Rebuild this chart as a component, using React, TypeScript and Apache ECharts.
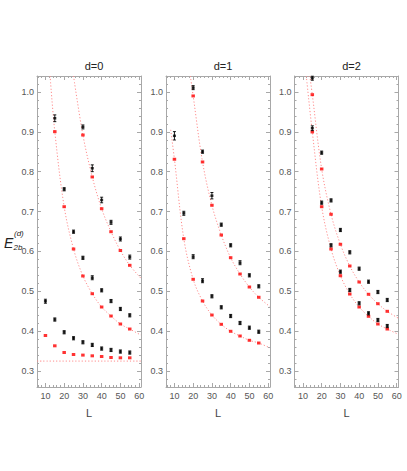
import React, { useEffect, useRef } from "react";
import * as echarts from "echarts";

// ---- axis ticks ----
const xTicks = [10, 20, 30, 40, 50, 60];
const yTicks = [0.3, 0.4, 0.5, 0.6, 0.7, 0.8, 0.9, 1.0];
const panelTitles = ["d=0", "d=1", "d=2"];

// ---- d=0 ----
const d0A_L = [15, 20, 25, 30, 35, 40, 45, 50, 55];
const d0A_black = [0.934, 0.756, 0.6495, 0.584, 0.534, 0.5025, 0.4755, 0.4557, 0.4398];
const d0A_err = [0.0085, 0.004, 0.004, 0.004, 0.005, 0.004, 0.004, 0.004, 0.004];
const d0A_red = [0.9004, 0.7122, 0.6061, 0.5384, 0.494, 0.4606, 0.438, 0.418, 0.4054];
const d0A_fit = [[12.5, 1.04], [15, 0.9004], [20, 0.7122], [25, 0.6061], [30, 0.5384], [35, 0.494], [40, 0.4606], [45, 0.438], [50, 0.418], [55, 0.4054], [61, 0.39]];

const d0B_L = [30, 35, 40, 45, 50, 55];
const d0B_black = [0.9122, 0.8086, 0.729, 0.673, 0.6312, 0.5858];
const d0B_err = [0.005, 0.0085, 0.007, 0.005, 0.005, 0.005];
const d0B_red = [0.892, 0.7868, 0.7072, 0.6495, 0.6023, 0.5652];
const d0B_fit = [[25, 1.04], [30, 0.892], [35, 0.7868], [40, 0.7072], [45, 0.6495], [50, 0.6023], [55, 0.5652], [61, 0.5326]];

const d0C_L = [10, 15, 20, 25, 30, 35, 40, 45, 50, 55];
const d0C_black = [0.4751, 0.4292, 0.3973, 0.3823, 0.3722, 0.3655, 0.3564, 0.3529, 0.3489, 0.3464];
const d0C_err = [0.005, 0.004, 0.004, 0.004, 0.004, 0.004, 0.004, 0.004, 0.004, 0.004];
const d0C_red = [0.3891, 0.3633, 0.3465, 0.3415, 0.34, 0.3382, 0.3365, 0.334, 0.3332, 0.3332];
const d0C_fit = [[5.5, 0.325], [61, 0.325]];

// ---- d=1 ----
const d1A_L = [10, 15, 20, 25, 30, 35, 40, 45, 50, 55];
const d1A_black = [0.89, 0.6957, 0.5868, 0.5266, 0.4875, 0.4599, 0.438, 0.4205, 0.4087, 0.3986];
const d1A_err = [0.0105, 0.005, 0.005, 0.005, 0.004, 0.004, 0.004, 0.004, 0.004, 0.004];
const d1A_red = [0.8312, 0.632, 0.5301, 0.4757, 0.4405, 0.4172, 0.3997, 0.3879, 0.3771, 0.3703];
const d1A_fit = [[8, 0.905], [10, 0.8312], [15, 0.632], [20, 0.5301], [25, 0.4757], [30, 0.4405], [35, 0.4172], [40, 0.3997], [45, 0.3879], [50, 0.3771], [55, 0.3703], [61, 0.358]];

const d1B_L = [20, 25, 30, 35, 40, 45, 50, 55];
const d1B_black = [1.0108, 0.8502, 0.7398, 0.6671, 0.6154, 0.5717, 0.5401, 0.5125];
const d1B_err = [0.005, 0.004, 0.008, 0.004, 0.004, 0.005, 0.004, 0.004];
const d1B_red = [0.99, 0.8244, 0.7158, 0.6412, 0.5843, 0.5434, 0.5108, 0.485];
const d1B_fit = [[18.5, 1.04], [20, 0.99], [25, 0.8244], [30, 0.7158], [35, 0.6412], [40, 0.5843], [45, 0.5434], [50, 0.5108], [55, 0.485], [61, 0.4614]];

// ---- d=2 ----
const d2A_L = [15, 20, 25, 30, 35, 40, 45, 50, 55];
const d2A_black = [0.909, 0.7223, 0.6154, 0.5492, 0.5033, 0.4699, 0.4448, 0.428, 0.4129];
const d2A_err = [0.006, 0.004, 0.004, 0.004, 0.004, 0.004, 0.004, 0.004, 0.004];
const d2A_red = [0.8997, 0.7122, 0.6061, 0.5391, 0.4932, 0.4606, 0.4373, 0.418, 0.4054];
const d2A_fit = [[11.8, 1.04], [15, 0.8997], [20, 0.7122], [25, 0.6061], [30, 0.5391], [35, 0.4932], [40, 0.4606], [45, 0.4373], [50, 0.418], [55, 0.4054], [61, 0.392]];

const d2B_L = [15, 20, 25, 30, 35, 40, 45, 50, 55];
const d2B_black = [1.0344, 0.8477, 0.728, 0.6538, 0.5978, 0.5567, 0.5241, 0.4982, 0.4782];
const d2B_err = [0.005, 0.004, 0.004, 0.004, 0.004, 0.004, 0.004, 0.004, 0.004];
const d2B_red = [0.9932, 0.8068, 0.6932, 0.6179, 0.5635, 0.5233, 0.4925, 0.4689, 0.4498];
const d2B_fit = [[13.7, 1.04], [15, 0.9932], [20, 0.8068], [25, 0.6932], [30, 0.6179], [35, 0.5635], [40, 0.5233], [45, 0.4925], [50, 0.4689], [55, 0.4498], [61, 0.4323]];

type Grp = { L: number[]; black: number[]; err: number[]; red: number[]; fit: number[][] };
const panels: Grp[][] = [
  [
    { L: d0A_L, black: d0A_black, err: d0A_err, red: d0A_red, fit: d0A_fit },
    { L: d0B_L, black: d0B_black, err: d0B_err, red: d0B_red, fit: d0B_fit },
    { L: d0C_L, black: d0C_black, err: d0C_err, red: d0C_red, fit: d0C_fit },
  ],
  [
    { L: d1A_L, black: d1A_black, err: d1A_err, red: d1A_red, fit: d1A_fit },
    { L: d1B_L, black: d1B_black, err: d1B_err, red: d1B_red, fit: d1B_fit },
  ],
  [
    { L: d2A_L, black: d2A_black, err: d2A_err, red: d2A_red, fit: d2A_fit },
    { L: d2B_L, black: d2B_black, err: d2B_err, red: d2B_red, fit: d2B_fit },
  ],
];

const X_MIN = 5.5, X_MAX = 61, Y_MIN = 0.26, Y_MAX = 1.04;
const xMinor: number[] = [];
for (let v = 6; v <= 60; v += 2) xMinor.push(v);
const yMinor: number[] = [];
for (let i = 13; i <= 52; i++) yMinor.push(Math.round(i * 2) / 100);

const AXIS = "#a8a8a8";
const LBL = "#555";
const FONT = "Liberation Sans, Arial, sans-serif";
const gridLefts = [37, 166, 294.5];
const GRID_TOP = 76, GRID_W = 104, GRID_H = 311;

export default function App() {
  const ref = useRef<HTMLDivElement>(null);
  useEffect(() => {
    if (!ref.current) return;
    const chart = echarts.init(ref.current, undefined, { renderer: "svg" });
    const grid: any[] = [];
    const xAxis: any[] = [];
    const yAxis: any[] = [];
    const series: any[] = [];
    const title: any[] = [];

    panels.forEach((groups, g) => {
      grid.push({ left: gridLefts[g], top: GRID_TOP, width: GRID_W, height: GRID_H });
      title.push({
        text: panelTitles[g], left: gridLefts[g] + GRID_W / 2, top: 55, textAlign: "center",
        textStyle: { fontSize: 11, fontWeight: "normal", color: "#222", fontFamily: FONT },
      });
      const xBase = { gridIndex: g, type: "value", min: X_MIN, max: X_MAX, splitLine: { show: false } };
      const yBase = { gridIndex: g, type: "value", min: Y_MIN, max: Y_MAX, splitLine: { show: false } };
      ["bottom", "top"].forEach((pos, pi) => {
        xAxis.push({
          ...xBase, position: pos,
          axisLine: { show: true, onZero: false, lineStyle: { color: AXIS, width: 1 } },
          axisTick: { show: true, inside: true, length: 4, customValues: xTicks, lineStyle: { color: AXIS } },
          axisLabel: pi === 0
            ? { show: true, customValues: xTicks, margin: 4, fontSize: 9, color: LBL, fontFamily: FONT }
            : { show: false },
          name: pi === 0 ? "L" : "", nameLocation: "middle", nameGap: 20,
          nameTextStyle: { fontSize: 11, color: "#444", fontFamily: FONT },
        });
        xAxis.push({
          ...xBase, position: pos,
          axisLine: { show: false, onZero: false },
          axisTick: { show: true, inside: true, length: 2, customValues: xMinor, lineStyle: { color: AXIS } },
          axisLabel: { show: false },
        });
      });
      ["left", "right"].forEach((pos, pi) => {
        yAxis.push({
          ...yBase, position: pos,
          axisLine: { show: true, onZero: false, lineStyle: { color: AXIS, width: 1 } },
          axisTick: { show: true, inside: true, length: 4, customValues: yTicks, lineStyle: { color: AXIS } },
          axisLabel: pi === 0
            ? { show: true, customValues: yTicks, margin: 3, fontSize: 9, color: LBL, fontFamily: FONT, formatter: (v: number) => v.toFixed(1) }
            : { show: false },
        });
        yAxis.push({
          ...yBase, position: pos,
          axisLine: { show: false, onZero: false },
          axisTick: { show: true, inside: true, length: 2, customValues: yMinor, lineStyle: { color: AXIS } },
          axisLabel: { show: false },
        });
      });
      const xi = g * 4, yi = g * 4;
      groups.forEach((grp) => {
        series.push({
          type: "line", xAxisIndex: xi, yAxisIndex: yi, data: grp.fit, smooth: 0.35,
          showSymbol: false, symbol: "none", clip: true,
          lineStyle: { color: "#ff8c8c", width: 1, type: [1.2, 2] }, z: 1,
        });
        series.push({
          type: "scatter", xAxisIndex: xi, yAxisIndex: yi, symbol: "rect", symbolSize: [3.5, 3],
          itemStyle: { color: "#ff0000" }, data: grp.L.map((l, i) => [l, grp.red[i]]), z: 3,
        });
        series.push({
          type: "custom", xAxisIndex: xi, yAxisIndex: yi, encode: { x: 0, y: 1 },
          data: grp.L.map((l, i) => [l, grp.black[i], grp.err[i]]), z: 4,
          renderItem: (params: any, api: any) => {
            const x = api.value(0), y = api.value(1), e = api.value(2);
            const t = api.coord([x, y + e]);
            const b = api.coord([x, y - e]);
            const w = 1.5;
            const st = { stroke: "#000", lineWidth: 0.9 };
            return {
              type: "group",
              children: [
                { type: "line", shape: { x1: t[0], y1: t[1], x2: b[0], y2: b[1] }, style: st },
                { type: "line", shape: { x1: t[0] - w, y1: t[1], x2: t[0] + w, y2: t[1] }, style: st },
                { type: "line", shape: { x1: b[0] - w, y1: b[1], x2: b[0] + w, y2: b[1] }, style: st },
              ],
            };
          },
        });
        series.push({
          type: "scatter", xAxisIndex: xi, yAxisIndex: yi, symbol: "rect", symbolSize: [3, 2.5],
          itemStyle: { color: "#000" }, data: grp.L.map((l, i) => [l, grp.black[i]]), z: 5,
        });
      });
    });

    chart.setOption({
      animation: false,
      backgroundColor: "#fff",
      title,
      grid,
      xAxis,
      yAxis,
      series,
      graphic: [
        { type: "text", left: 4, top: 236, style: { text: "E", fontSize: 14, fontStyle: "italic", fill: "#222", fontFamily: FONT } },
        { type: "text", left: 14, top: 229, style: { text: "(d)", fontSize: 8, fontStyle: "italic", fill: "#222", fontFamily: FONT } },
        { type: "text", left: 13.5, top: 243, style: { text: "2b", fontSize: 8, fontStyle: "italic", fill: "#222", fontFamily: FONT } },
      ],
    });
    return () => chart.dispose();
  }, []);
  return <div ref={ref} style={{ position: "absolute", left: 0, top: 0, width: 407, height: 471 }} />;
}
